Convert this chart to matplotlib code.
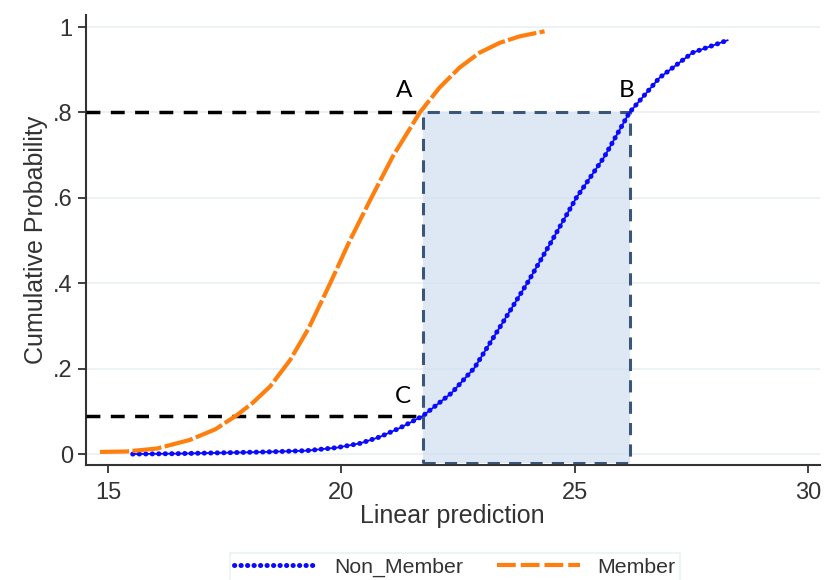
import numpy as np
import matplotlib.pyplot as plt
from matplotlib.patches import Rectangle

# values
member_x = [14.83, 15.4, 16.05, 16.75, 17.3, 17.76, 18.1, 18.47, 18.9, 19.3,
            19.76, 20.18, 20.64, 21.1, 21.68, 22.1, 22.53, 22.96, 23.39, 23.81, 24.35]
member_y = [0.005, 0.006, 0.013, 0.033, 0.058, 0.091, 0.12, 0.158, 0.22, 0.295,
            0.40, 0.50, 0.60, 0.697, 0.80, 0.858, 0.905, 0.94, 0.963, 0.978, 0.99]

nonmember_x = [15.53, 16.5, 17.46, 18.4, 19.26, 19.9, 20.4, 20.82, 21.25, 21.74,
               22.36, 22.85, 23.45, 24.0, 24.52, 25.03, 25.63, 26.17, 26.81,
               27.52, 28.27]
nonmember_y = [0.0, 0.001, 0.003, 0.005, 0.008, 0.015, 0.025, 0.040, 0.061, 0.089,
               0.143, 0.202, 0.307, 0.404, 0.502, 0.60, 0.696, 0.80, 0.881,
               0.94, 0.969]

a_x, b_x = 21.74, 26.17
p_high, p_low = 0.8, 0.089
rect_bottom = -0.022

xticks = [15, 20, 25, 30]
yticks = [0, 0.2, 0.4, 0.6, 0.8, 1]
ylabels = ["0", ".2", ".4", ".6", ".8", "1"]

plt.rcParams['font.family'] = ['Liberation Sans', 'DejaVu Sans']
txt = '#333333'

fig = plt.figure(figsize=(8.27, 5.8), dpi=100)
ax = fig.add_axes([0.104, 0.198, 0.887, 0.776])
ax.set_xlim(14.53, 30.24)
ax.set_ylim(-0.026, 1.028)

for t in yticks:
    ax.axhline(t, color='#eaf1f3', lw=1.2, zorder=0)

ax.add_patch(Rectangle((a_x, rect_bottom), b_x - a_x, p_high - rect_bottom,
                       facecolor='#c9daef', alpha=0.6, edgecolor='none', zorder=1))
ax.add_patch(Rectangle((a_x, rect_bottom), b_x - a_x, p_high - rect_bottom,
                       facecolor='none', edgecolor='#3b5677', lw=2.2,
                       linestyle=(0, (4, 3)), zorder=2))

ax.plot([14.53, a_x], [p_high, p_high], color='black', lw=2.5,
        linestyle=(0, (4, 3)), zorder=3)
ax.plot([14.53, a_x], [p_low, p_low], color='black', lw=2.5,
        linestyle=(0, (4, 3)), zorder=3)

# Non_Member: thin line with dense dots
ax.plot(nonmember_x, nonmember_y, color='#0a0aff', lw=1.3, zorder=4)
ax.plot(nonmember_x, nonmember_y, color='#0a0aff', lw=3.6,
        linestyle=(0, (0.05, 1.25)), dash_capstyle='round', zorder=4)
# Member: orange long dashes
ax.plot(member_x, member_y, color='#ff7f0e', lw=3.0,
        linestyle=(0, (7, 0.8)), zorder=4)

# legend proxies
h1, = ax.plot([], [], color='#0a0aff', lw=3.6, linestyle=(0, (0.05, 1.25)),
              dash_capstyle='round', label='Non_Member')
h2, = ax.plot([], [], color='#ff7f0e', lw=3.0, linestyle=(0, (4.5, 1.2)),
              label='Member')

lab = dict(fontsize=17.5, family=['Lato', 'DejaVu Sans'], color='black',
           ha='center', va='center', zorder=5)
ax.text(21.35, 0.852, 'A', **lab)
ax.text(26.1, 0.852, 'B', **lab)
ax.text(21.31, 0.134, 'C', **lab)

for s in ['top', 'right']:
    ax.spines[s].set_visible(False)
for s in ['left', 'bottom']:
    ax.spines[s].set_color('#333333')
    ax.spines[s].set_linewidth(1.5)

ax.set_xticks(xticks)
ax.set_yticks(yticks)
ax.set_yticklabels(ylabels)
ax.tick_params(axis='both', colors='#333333', labelcolor=txt, labelsize=17,
               length=6, width=1.3)
ax.tick_params(axis='x', pad=6)
ax.set_xlabel('Linear prediction', fontsize=18, color=txt, labelpad=0)
ax.set_ylabel('Cumulative Probability', fontsize=18, color=txt, labelpad=4)

leg = fig.legend(handles=[h1, h2], loc='upper center', bbox_to_anchor=(0.55, 0.046),
                 ncol=2, fontsize=15.3, frameon=True, fancybox=False,
                 handlelength=3.9, columnspacing=1.6, borderaxespad=0,
                 borderpad=0.2)
leg.get_frame().set_edgecolor('#e6edf0')
leg.get_frame().set_linewidth(1.2)
for t in leg.get_texts():
    t.set_color(txt)

fig.savefig('out.png', dpi=100)
